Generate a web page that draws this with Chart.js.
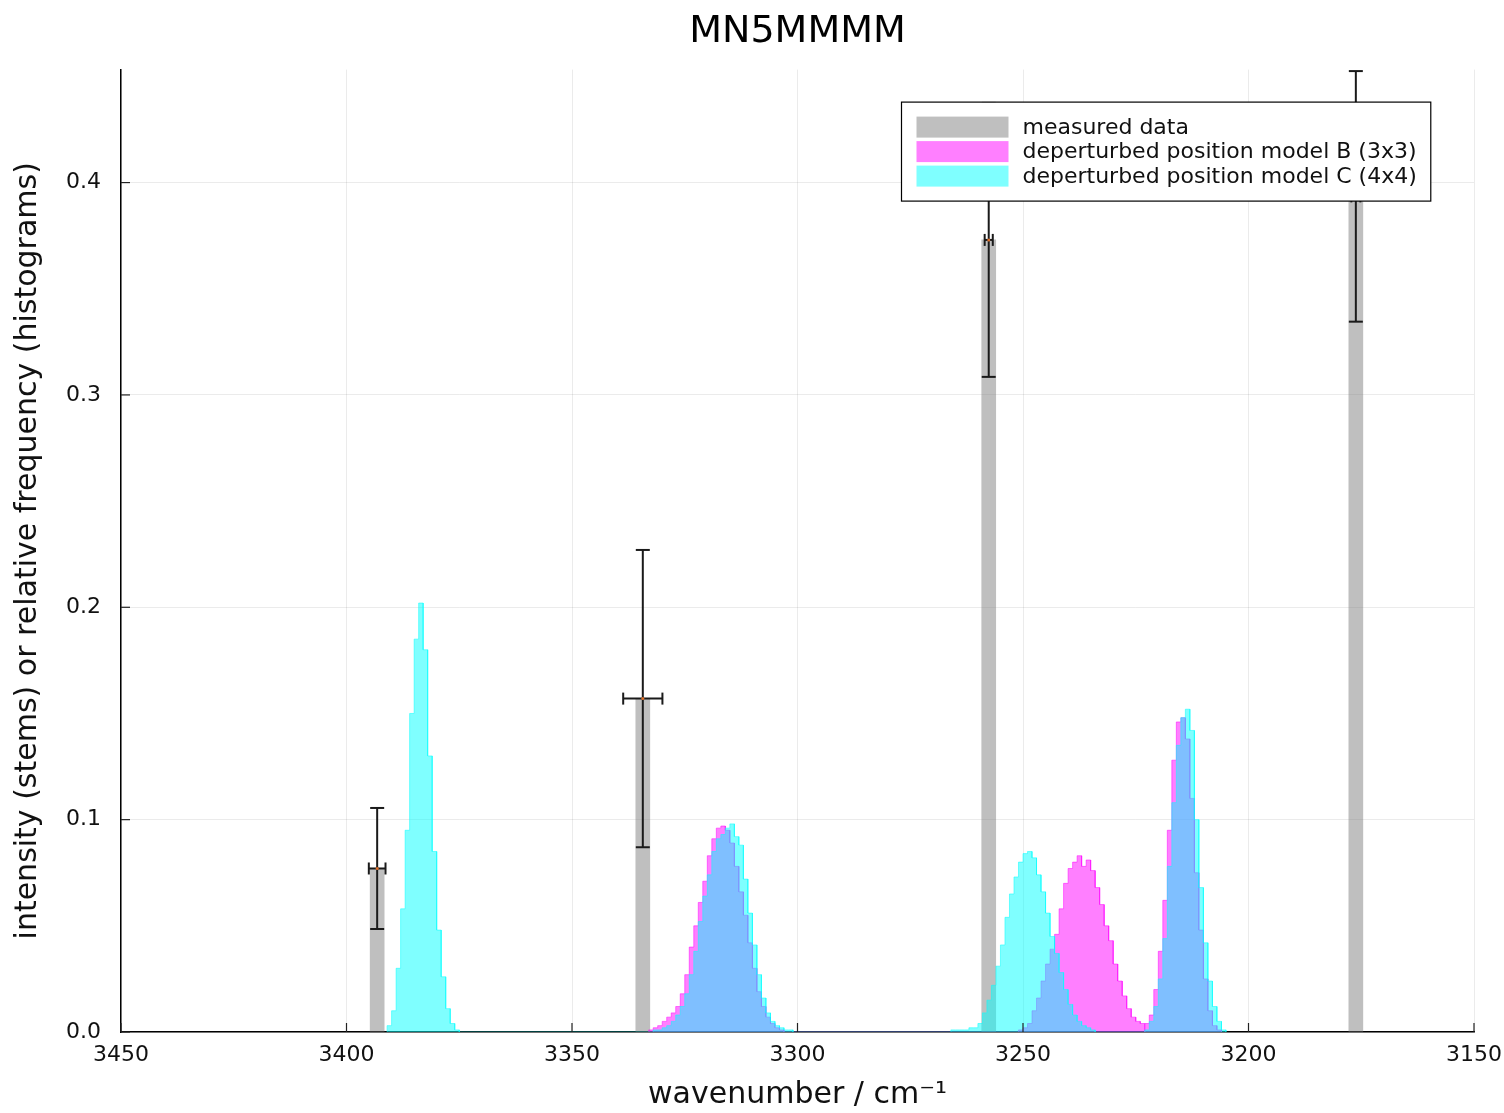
<!DOCTYPE html>
<html>
<head>
<meta charset="utf-8">
<title>MN5MMMM</title>
<script src="https://cdn.jsdelivr.net/npm/chart.js@4.4.1/dist/chart.umd.min.js"></script>
<style>
  html, body { margin: 0; padding: 0; background: #fff; }
  canvas { display: block; }
</style>
</head>
<body>
<canvas id="chart" width="1504" height="1113"></canvas>
<script>
const FONT = "'DejaVu Sans', sans-serif";

const xTicks = [3450, 3400, 3350, 3300, 3250, 3200, 3150];
const yTicks = [0, 0.1, 0.2, 0.3, 0.4];

// measured bands: position / cm-1, intensity, and their uncertainties
const measuredPos = [3393.2, 3334.3, 3257.6, 3176.2];
const measuredInt = [0.077, 0.157, 0.373, 0.3935];
const posErr = [1.85, 4.35, 0.9, 1.0];
const intErr = [0.0285, 0.07, 0.0645, 0.059];

// histograms: 1 cm-1 bins, each block listed from its upper edge downwards
const binWidth = 1;

const bStarts = [3333, 3251, 3223];
const bPeak1 = [0.001, 0.002, 0.003, 0.005, 0.007, 0.009, 0.012, 0.018, 0.027, 0.040,
  0.050, 0.061, 0.071, 0.083, 0.091, 0.096, 0.097, 0.095, 0.089, 0.078,
  0.066, 0.055, 0.042, 0.030, 0.019, 0.012, 0.007, 0.004, 0.002, 0.001];
const bPeak2 = [0.001, 0.002, 0.004, 0.010, 0.016, 0.024, 0.032, 0.039, 0.046, 0.058,
  0.070, 0.077, 0.080, 0.083, 0.078, 0.081, 0.076, 0.068, 0.060, 0.050,
  0.043, 0.032, 0.024, 0.017, 0.011, 0.007, 0.005, 0.004];
const bPeak3 = [0.004, 0.008, 0.020, 0.038, 0.062, 0.095, 0.128, 0.146, 0.148, 0.138,
  0.110, 0.075, 0.048, 0.025, 0.010, 0.003, 0.001];

const cStarts = [3391, 3332, 3266, 3223];
const cPeak1 = [0.003, 0.010, 0.030, 0.058, 0.095, 0.150, 0.185, 0.202, 0.180, 0.130,
  0.085, 0.048, 0.026, 0.011, 0.004, 0.001];
const cPeak2 = [0.001, 0.001, 0.002, 0.003, 0.005, 0.008, 0.012, 0.018, 0.027, 0.038,
  0.052, 0.064, 0.074, 0.085, 0.091, 0.093, 0.096, 0.098, 0.092, 0.088,
  0.072, 0.056, 0.041, 0.027, 0.016, 0.009, 0.005, 0.003, 0.002, 0.001, 0.001];
const cPeak3 = [0.001, 0.001, 0.001, 0.001, 0.002, 0.002, 0.004, 0.009, 0.015, 0.022,
  0.031, 0.041, 0.054, 0.065, 0.073, 0.080, 0.084, 0.085, 0.082, 0.074,
  0.066, 0.056, 0.045, 0.037, 0.028, 0.020, 0.013, 0.008, 0.005, 0.003,
  0.002, 0.001];
const cPeak4 = [0.001, 0.005, 0.012, 0.025, 0.044, 0.078, 0.108, 0.135, 0.148, 0.152,
  0.142, 0.100, 0.068, 0.042, 0.024, 0.012, 0.005, 0.001];

const GRAY = 'rgba(128,128,128,0.5)';
const MAGENTA = 'rgba(255,0,255,0.5)';
const CYAN = 'rgba(0,255,255,0.5)';

// step outline for a set of histogram blocks, closed down to zero at both ends
function histPoints(starts, blocks) {
  const pts = [];
  blocks.forEach((vals, k) => {
    let edge = starts[k];
    pts.push({ x: edge, y: 0 });
    vals.forEach((v) => {
      pts.push({ x: edge, y: v });
      edge -= binWidth;
      pts.push({ x: edge, y: v });
    });
    pts.push({ x: edge, y: 0 });
  });
  return pts;
}

const overlay = {
  id: 'overlay',
  afterDatasetsDraw(chart) {
    const { ctx } = chart;
    const x = chart.scales.x;
    const y = chart.scales.y;
    const seg = (x1, y1, x2, y2) => { ctx.beginPath(); ctx.moveTo(x1, y1); ctx.lineTo(x2, y2); ctx.stroke(); };
    ctx.save();

    // error bars on the measured bands
    ctx.strokeStyle = '#1a1a1a';
    ctx.lineWidth = 2;
    measuredPos.forEach((w, i) => {
      const cx = x.getPixelForValue(w);
      const cy = y.getPixelForValue(measuredInt[i]);
      const top = y.getPixelForValue(measuredInt[i] + intErr[i]);
      const bot = y.getPixelForValue(measuredInt[i] - intErr[i]);
      const l = x.getPixelForValue(w + posErr[i]);
      const r = x.getPixelForValue(w - posErr[i]);
      seg(cx, top, cx, bot);
      seg(cx - 7, top, cx + 7, top);
      seg(cx - 7, bot, cx + 7, bot);
      seg(l, cy, r, cy);
      seg(l, cy - 6, l, cy + 6);
      seg(r, cy - 6, r, cy + 6);
      ctx.fillStyle = '#e0702a';
      ctx.beginPath();
      ctx.arc(cx, cy, 1.5, 0, Math.PI * 2);
      ctx.fill();
    });
    ctx.restore();
  },
  afterDraw(chart) {
    const { ctx, chartArea: area } = chart;
    const x = chart.scales.x;
    const y = chart.scales.y;
    ctx.save();

    // inward tick marks
    ctx.strokeStyle = '#222';
    ctx.lineWidth = 1.2;
    xTicks.forEach((v) => {
      const px = x.getPixelForValue(v);
      ctx.beginPath(); ctx.moveTo(px, area.bottom); ctx.lineTo(px, area.bottom - 9); ctx.stroke();
    });
    yTicks.forEach((v) => {
      const py = y.getPixelForValue(v);
      ctx.beginPath(); ctx.moveTo(area.left, py); ctx.lineTo(area.left + 9, py); ctx.stroke();
    });

    // legend box in the upper right of the plot
    const items = chart.data.datasets.map((d) => ({ label: d.label, color: d.backgroundColor }));
    ctx.font = `22px ${FONT}`;
    const textW = Math.max(...items.map((it) => ctx.measureText(it.label).width));
    const boxW = 15 + 92 + 14 + textW + 14;
    const boxH = 99;
    const bx = Math.round(area.right - 44 - boxW) + 0.5;
    const by = area.top + 32.5;
    ctx.fillStyle = '#fff';
    ctx.fillRect(bx, by, boxW, boxH);
    ctx.strokeStyle = '#000';
    ctx.lineWidth = 1.2;
    ctx.strokeRect(bx, by, boxW, boxH);
    ctx.textBaseline = 'middle';
    items.forEach((it, i) => {
      const cy = by + 25 + i * 24.5;
      ctx.fillStyle = it.color;
      ctx.fillRect(bx + 15, cy - 10.5, 92, 21);
      ctx.fillStyle = '#111';
      ctx.fillText(it.label, bx + 15 + 92 + 14, cy + 1);
    });
    ctx.restore();
  }
};

new Chart(document.getElementById('chart'), {
  type: 'line',
  data: {
    datasets: [
      {
        type: 'bar',
        label: 'measured data',
        data: measuredPos.map((w, i) => ({ x: w, y: measuredInt[i] })),
        backgroundColor: GRAY,
        barThickness: 14,
        order: 3
      },
      {
        label: 'deperturbed position model B (3x3)',
        data: histPoints(bStarts, [bPeak1, bPeak2, bPeak3]),
        fill: 'origin',
        backgroundColor: MAGENTA,
        borderColor: MAGENTA,
        borderWidth: 1,
        pointRadius: 0,
        tension: 0,
        order: 2
      },
      {
        label: 'deperturbed position model C (4x4)',
        data: histPoints(cStarts, [cPeak1, cPeak2, cPeak3, cPeak4]),
        fill: 'origin',
        backgroundColor: CYAN,
        borderColor: CYAN,
        borderWidth: 1,
        pointRadius: 0,
        tension: 0,
        order: 1
      }
    ]
  },
  options: {
    responsive: false,
    animation: false,
    events: [],
    devicePixelRatio: 1,
    layout: { padding: { top: 0, right: 30, bottom: 0, left: 0 } },
    plugins: {
      legend: { display: false },
      tooltip: { enabled: false },
      title: {
        display: true,
        fullSize: false,
        text: 'MN5MMMM',
        color: '#000',
        font: { family: FONT, size: 38, weight: 'normal' },
        padding: { top: 9, bottom: 15 }
      }
    },
    scales: {
      x: {
        type: 'linear',
        reverse: true,
        min: 3150,
        max: 3450,
        offset: false,
        afterBuildTicks: (s) => { s.ticks = xTicks.map((v) => ({ value: v })); },
        afterFit: (s) => { s.height = 81; s.paddingLeft = 0; s.paddingRight = 0; },
        grid: { color: 'rgba(0,0,0,0.08)', drawTicks: false, offset: false },
        border: { color: '#000', width: 1.5 },
        ticks: {
          z: 1,
          padding: 10,
          autoSkip: false,
          maxRotation: 0,
          color: '#111',
          font: { family: FONT, size: 22 },
          callback: (v) => String(v)
        },
        title: {
          display: true,
          text: 'wavenumber / cm⁻¹',
          color: '#111',
          font: { family: FONT, size: 30 },
          padding: { top: 0, bottom: 0 }
        }
      },
      y: {
        min: 0,
        max: 0.4532,
        afterBuildTicks: (s) => { s.ticks = yTicks.map((v) => ({ value: v })); },
        afterFit: (s) => { s.width = 121; s.paddingTop = 0; s.paddingBottom = 0; },
        grid: { color: 'rgba(0,0,0,0.08)', drawTicks: false },
        border: { color: '#000', width: 1.5 },
        ticks: {
          z: 1,
          padding: 20,
          color: '#111',
          font: { family: FONT, size: 22 },
          callback: (v) => v.toFixed(1)
        },
        title: {
          display: true,
          text: 'intensity (stems) or relative frequency (histograms)',
          color: '#111',
          font: { family: FONT, size: 30 },
          padding: { top: 10, bottom: 0 }
        }
      }
    }
  },
  plugins: [overlay]
});
</script>
</body>
</html>
